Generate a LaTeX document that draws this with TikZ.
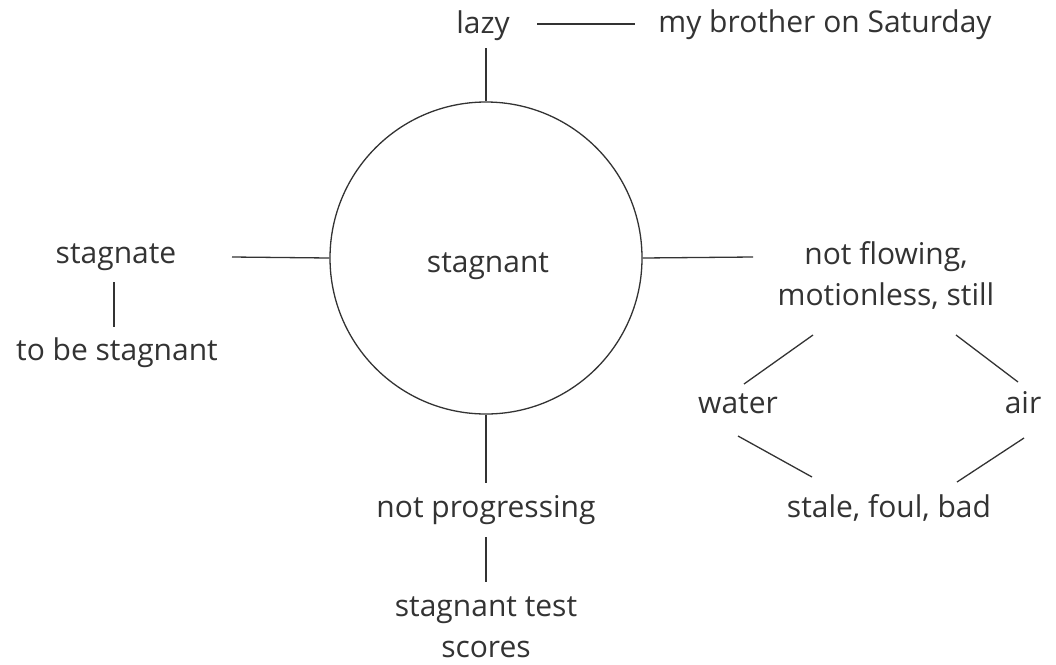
\documentclass[tikz,border=0pt]{standalone}
\usepackage{fontspec}
\setmainfont{Open Sans}
\usetikzlibrary{calc}
\definecolor{ink}{HTML}{333333}
\tikzset{
  word/.style={anchor=base, inner sep=0pt, text=ink, font=\fontsize{30}{41}\selectfont, align=center},
  link/.style={draw=ink, line width=1.3pt},
  hub/.style={circle, draw=ink, line width=1.3pt, minimum size=312pt, inner sep=0pt}
}
\begin{document}
\begin{tikzpicture}[x=1pt, y=-1pt]
\useasboundingbox (0,0) rectangle (1056,664);
\node[hub] (c) at (486,258) {};
\node[word] (ct) at (488,272) {stagnant};
\node[word] (lazy) at (483,33) {lazy};
\node[word] (brother) at (825,32) {my brother on Saturday};
\node[word] (stagnate) at (116,263) {stagnate};
\node[word] (tobe) at (117,360) {to be stagnant};
\node[word] (flow) at (886,305) {not flowing,\\motionless, still};
\node[word] (water) at (738,413) {water};
\node[word] (air) at (1023,413) {air};
\node[word] (stale) at (889,517) {stale, foul, bad};
\node[word] (prog) at (486,517) {not progressing};
\node[word] (test) at (486,657) {stagnant test\\scores};

\draw[link] ($(lazy.base)+(54,-9)$) -- ($(brother.base)+(-190,-8)$);
\draw[link] ($(lazy.base)+(3,15)$) -- (c.north);
\draw[link] ($(stagnate.base)+(116,-6)$) -- (c.west);
\draw[link] ($(stagnate.base)+(-2,19)$) -- ($(tobe.base)+(-3,-33)$);
\draw[link] (c.east) -- ($(flow.base)+(-133,-48)$);
\draw[link] ($(flow.base)+(-73,30)$) -- ($(water.base)+(6,-29)$);
\draw[link] ($(flow.base)+(70,30)$) -- ($(air.base)+(-5,-31)$);
\draw[link] ($(water.base)+(0,23)$) -- ($(stale.base)+(-77,-40)$);
\draw[link] ($(air.base)+(1,25)$) -- ($(stale.base)+(68,-35)$);
\draw[link] (c.south) -- ($(prog.base)+(0,-34)$);
\draw[link] ($(prog.base)+(0,20)$) -- ($(test.base)+(0,-75)$);
\end{tikzpicture}
\end{document}
